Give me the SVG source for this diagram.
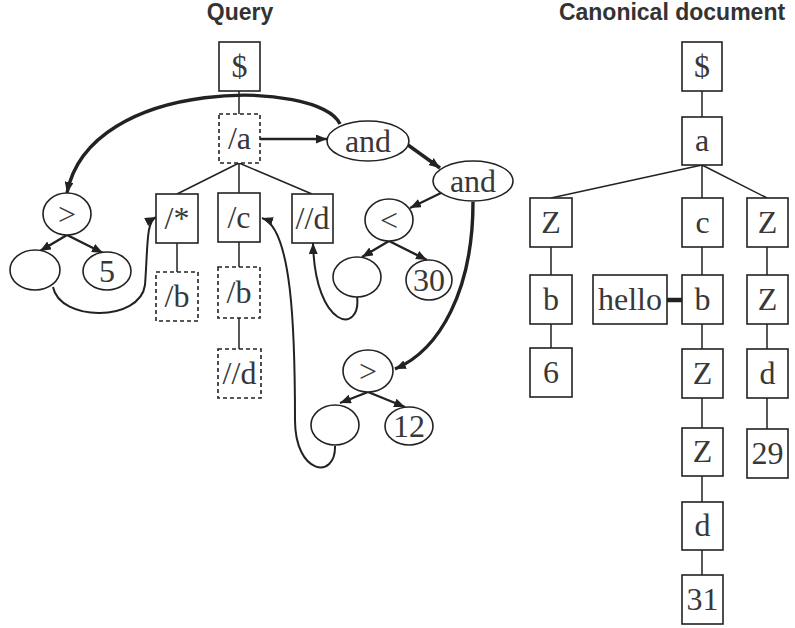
<svg xmlns="http://www.w3.org/2000/svg" width="795" height="628" viewBox="0 0 795 628">
<style>
.title{font-family:"Liberation Sans",Arial,sans-serif;font-weight:bold;font-size:23px;fill:#333;text-anchor:middle}
.lbl{font-family:"Liberation Serif","Times New Roman",serif;font-size:32px;fill:#383838;text-anchor:middle}
.box{fill:#fff;stroke:#222;stroke-width:1.6}
.dbox{fill:#fff;stroke:#222;stroke-width:1.6;stroke-dasharray:4 3}
.ell{fill:#fff;stroke:#222;stroke-width:1.6}
.edge{stroke:#222;stroke-width:1.5;fill:none}
.arr{stroke:#222;stroke-width:2.4;fill:none;marker-end:url(#ah)}
.thick{stroke:#222;stroke-width:3.4;fill:none;marker-end:url(#ah)}
.thin{stroke:#222;stroke-width:2;fill:none;marker-end:url(#ah)}
</style>
<defs>
<marker id="ah" markerUnits="userSpaceOnUse" markerWidth="11" markerHeight="9" refX="11" refY="4.5" orient="auto">
<path d="M0,0 L11,4.5 L0,9 z" fill="#222"/>
</marker>
</defs>
<rect width="795" height="628" fill="#fff"/>
<text class="title" x="240" y="20">Query</text>
<text class="title" x="672" y="20">Canonical document</text>

<g id="connectors">
<path class="edge" d="M239,91 V114"/>
<path class="edge" d="M239,163 L177,194 M239,163 V193 M239,163 L312,194"/>
<path class="edge" d="M177,243 V272 M239,241 V267 M239,318 V349"/>
<path class="arr" d="M260,139 H327"/>
<path class="thick" d="M340,124 C320,80 90,75 67,193"/>
<path class="thick" d="M408,145 L440,168"/>
<path class="arr" d="M443,192 L410,208"/>
<path class="arr" d="M389,241 L362,257"/>
<path class="arr" d="M389,241 L427,260"/>
<path class="thin" d="M357,296 C362,335 315,330 313,243"/>
<path class="thick" d="M473,202 C473,290 440,350 395,369"/>
<path class="arr" d="M368,392 L340,403"/>
<path class="arr" d="M368,392 L405,407"/>
<path class="thin" d="M335,446 C336,480 295,475 295,420 C295,330 292,228 262,218"/>
<path class="arr" d="M67,235 L40,251"/>
<path class="arr" d="M67,235 L103,253"/>
<path class="thin" d="M53,287 C60,322 140,322 145,285 C148,245 146,222 156,217"/>
<path class="edge" d="M702,91 V117"/>
<path class="edge" d="M702,165 L551,198 M702,165 V198 M702,165 L767,198"/>
<path class="edge" d="M551,247 V275 M551,324 V348"/>
<path class="edge" d="M702,247 V275 M702,324 V349 M702,398 V428 M702,476 V502 M702,550 V575"/>
<path class="edge" d="M767,247 V275 M767,324 V349 M767,398 V429"/>
<path d="M667,300 H682" stroke="#222" stroke-width="4.5"/>
</g>

<g id="q-root"><rect class="box" x="219" y="42" width="41" height="49"/><text class="lbl" x="239.5" y="77">$</text></g>
<g id="q-a"><rect class="dbox" x="219" y="114" width="41" height="49"/><text class="lbl" x="239.5" y="149">/a</text></g>
<g id="q-star"><rect class="box" x="156" y="194" width="42" height="49"/><text class="lbl" x="177" y="229">/*</text></g>
<g id="q-c"><rect class="box" x="218" y="193" width="42" height="49"/><text class="lbl" x="239" y="228">/c</text></g>
<g id="q-dd"><rect class="box" x="292" y="194" width="41" height="49"/><text class="lbl" x="312.5" y="229">//d</text></g>
<g id="q-b1"><rect class="dbox" x="156" y="272" width="42" height="49"/><text class="lbl" x="177" y="307">/b</text></g>
<g id="q-b2"><rect class="dbox" x="218" y="267" width="42" height="51"/><text class="lbl" x="239" y="303">/b</text></g>
<g id="q-dd2"><rect class="dbox" x="218" y="349" width="43" height="49"/><text class="lbl" x="239.5" y="384">//d</text></g>
<g id="q-and1"><ellipse class="ell" cx="368" cy="141" rx="41" ry="20"/><text class="lbl" x="368" y="152">and</text></g>
<g id="q-and2"><ellipse class="ell" cx="473" cy="181" rx="40" ry="20"/><text class="lbl" x="473" y="192">and</text></g>
<g id="q-lt"><ellipse class="ell" cx="389" cy="220" rx="24" ry="21"/><text class="lbl" x="389" y="231">&lt;</text></g>
<g id="q-lt-l"><ellipse class="ell" cx="357" cy="277" rx="24" ry="20"/></g>
<g id="q-30"><ellipse class="ell" cx="429" cy="280" rx="23" ry="20"/><text class="lbl" x="429" y="291">30</text></g>
<g id="q-gt2"><ellipse class="ell" cx="368" cy="371" rx="25" ry="21"/><text class="lbl" x="368" y="382">&gt;</text></g>
<g id="q-gt2-l"><ellipse class="ell" cx="335" cy="425" rx="24" ry="20"/></g>
<g id="q-12"><ellipse class="ell" cx="409" cy="426" rx="24" ry="19"/><text class="lbl" x="409" y="437">12</text></g>
<g id="q-gt1"><ellipse class="ell" cx="67" cy="214" rx="24" ry="21"/><text class="lbl" x="67" y="225">&gt;</text></g>
<g id="q-gt1-l"><ellipse class="ell" cx="35" cy="270" rx="25" ry="20"/></g>
<g id="q-5"><ellipse class="ell" cx="107" cy="271" rx="24" ry="19"/><text class="lbl" x="107" y="282">5</text></g>

<g id="d-root"><rect class="box" x="682" y="42" width="40" height="49"/><text class="lbl" x="702" y="77">$</text></g>
<g id="d-a"><rect class="box" x="682" y="117" width="40" height="48"/><text class="lbl" x="702" y="151">a</text></g>
<g id="d-z1"><rect class="box" x="530" y="198" width="42" height="49"/><text class="lbl" x="551" y="233">Z</text></g>
<g id="d-c"><rect class="box" x="682" y="198" width="41" height="49"/><text class="lbl" x="702.5" y="233">c</text></g>
<g id="d-z2"><rect class="box" x="747" y="198" width="41" height="49"/><text class="lbl" x="767.5" y="233">Z</text></g>
<g id="d-b1"><rect class="box" x="530" y="275" width="42" height="49"/><text class="lbl" x="551" y="310">b</text></g>
<g id="d-hello"><rect class="box" x="593" y="275" width="74" height="49"/><text class="lbl" x="630" y="310">hello</text></g>
<g id="d-b2"><rect class="box" x="682" y="275" width="41" height="49"/><text class="lbl" x="702.5" y="310">b</text></g>
<g id="d-z3"><rect class="box" x="747" y="275" width="41" height="49"/><text class="lbl" x="767.5" y="310">Z</text></g>
<g id="d-6"><rect class="box" x="530" y="348" width="42" height="49"/><text class="lbl" x="551" y="383">6</text></g>
<g id="d-z4"><rect class="box" x="682" y="349" width="41" height="49"/><text class="lbl" x="702.5" y="384">Z</text></g>
<g id="d-d1"><rect class="box" x="747" y="349" width="41" height="49"/><text class="lbl" x="767.5" y="384">d</text></g>
<g id="d-z5"><rect class="box" x="682" y="428" width="41" height="48"/><text class="lbl" x="702.5" y="462">Z</text></g>
<g id="d-29"><rect class="box" x="747" y="429" width="41" height="49"/><text class="lbl" x="767.5" y="464">29</text></g>
<g id="d-d2"><rect class="box" x="682" y="502" width="41" height="48"/><text class="lbl" x="702.5" y="536">d</text></g>
<g id="d-31"><rect class="box" x="682" y="575" width="41" height="49"/><text class="lbl" x="702.5" y="610">31</text></g>
</svg>
